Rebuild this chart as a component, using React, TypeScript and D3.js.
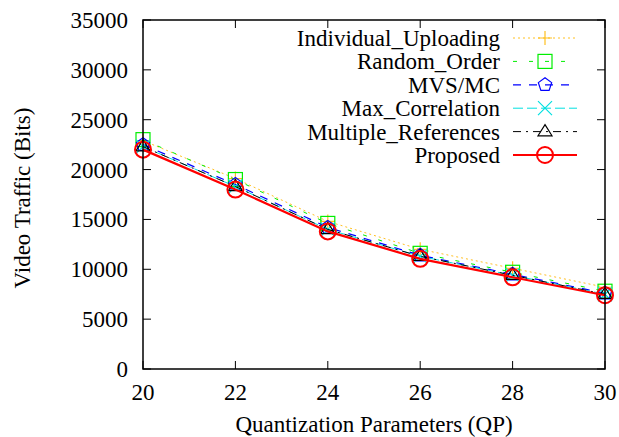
import React from 'react'
import * as d3 from 'd3'

// QP values on the x axis
const qp = [20, 22, 24, 26, 28, 30]

// video traffic (bits) for each method
const individualUploading = [22900, 19100, 14800, 12000, 10100, 8200]
const randomOrder = [23000, 19000, 14600, 11600, 9700, 7800]
const mvsMc = [22500, 18500, 14200, 11400, 9500, 7600]
const maxCorrelation = [22300, 18300, 14000, 11300, 9400, 7500]
const multipleReferences = [22300, 18300, 14000, 11300, 9400, 7500]
const proposed = [22000, 18000, 13800, 11050, 9200, 7400]

const yTicks = [0, 5000, 10000, 15000, 20000, 25000, 30000, 35000]

const series = [
  { name: 'Individual_Uploading', values: individualUploading, color: '#ffc020', dash: '2,3', width: 1, marker: 'plus' },
  { name: 'Random_Order', values: randomOrder, color: '#00ee00', dash: '4,12', width: 1, marker: 'square' },
  { name: 'MVS/MC', values: mvsMc, color: '#0000ff', dash: '8,8', width: 1.2, marker: 'pentagon' },
  { name: 'Max_Correlation', values: maxCorrelation, color: '#00e0e0', dash: '10,4', width: 1, marker: 'cross' },
  { name: 'Multiple_References', values: multipleReferences, color: '#000000', dash: '8,5,2,5', width: 1, marker: 'triangle' },
  { name: 'Proposed', values: proposed, color: '#ff0000', dash: null, width: 2.2, marker: 'circle' },
]

const width = 619
const height = 437
const margin = { left: 143, right: 14, top: 20, bottom: 68 }

const x = d3.scaleLinear().domain([20, 30]).range([margin.left, width - margin.right])
const y = d3.scaleLinear().domain([0, 35000]).range([height - margin.bottom, margin.top])

function Marker({ kind, cx, cy, color }: { kind: string; cx: number; cy: number; color: string }) {
  const s = 7
  const common = { fill: 'none', stroke: color, strokeWidth: kind === 'circle' ? 2 : 1.2 }
  if (kind === 'plus') {
    return <path d={`M${cx - s},${cy}H${cx + s}M${cx},${cy - s}V${cy + s}`} {...common} />
  }
  if (kind === 'cross') {
    return <path d={`M${cx - s},${cy - s}L${cx + s},${cy + s}M${cx - s},${cy + s}L${cx + s},${cy - s}`} {...common} />
  }
  if (kind === 'square') {
    return <rect x={cx - s} y={cy - s} width={2 * s} height={2 * s} {...common} />
  }
  if (kind === 'circle') {
    return <circle cx={cx} cy={cy} r={s + 1} {...common} />
  }
  if (kind === 'triangle') {
    return <path d={`M${cx},${cy - s}L${cx + s},${cy + s * 0.6}L${cx - s},${cy + s * 0.6}Z`} {...common} />
  }
  // pentagon
  const pts = d3.range(5).map((i) => {
    const a = -Math.PI / 2 + (i * 2 * Math.PI) / 5
    return [cx + s * Math.cos(a), cy + s * Math.sin(a)]
  })
  return <polygon points={pts.map((p) => p.join(',')).join(' ')} {...common} />
}

export default function App() {
  const line = d3
    .line<number>()
    .x((_, i) => x(qp[i]))
    .y((d) => y(d))

  const font = "'Liberation Serif', 'Times New Roman', 'DejaVu Serif', serif"
  const fs = 23
  const x0 = margin.left
  const x1 = width - margin.right
  const y0 = height - margin.bottom
  const y1 = margin.top
  const tick = 8

  return (
    <svg width={width} height={height} style={{ position: 'absolute', left: 0, top: 0, fontFamily: font }}>
      <rect width={width} height={height} fill="#fff" />
      {/* ticks, mirrored on all sides */}
      {yTicks.map((t) => (
        <g key={'y' + t}>
          <line x1={x0} x2={x0 + tick} y1={y(t)} y2={y(t)} stroke="#000" />
          <line x1={x1} x2={x1 - tick} y1={y(t)} y2={y(t)} stroke="#000" />
          <text x={x0 - 15} y={y(t) + 8} textAnchor="end" fontSize={fs}>
            {t}
          </text>
        </g>
      ))}
      {qp.map((t) => (
        <g key={'x' + t}>
          <line x1={x(t)} x2={x(t)} y1={y0} y2={y0 - tick} stroke="#000" />
          <line x1={x(t)} x2={x(t)} y1={y1} y2={y1 + tick} stroke="#000" />
          <text x={x(t)} y={y0 + 31} textAnchor="middle" fontSize={fs}>
            {t}
          </text>
        </g>
      ))}

      {series.map((s) => (
        <g key={s.name}>
          <path d={line(s.values) || ''} fill="none" stroke={s.color} strokeWidth={s.width} strokeDasharray={s.dash || undefined} />
          {s.values.map((v, i) => (
            <Marker key={i} kind={s.marker} cx={x(qp[i])} cy={y(v)} color={s.color} />
          ))}
        </g>
      ))}

      <rect x={x0} y={y1} width={x1 - x0} height={y0 - y1} fill="none" stroke="#000" strokeWidth={1.5} />

      {/* legend */}
      {series.map((s, i) => {
        const ly = 38 + i * 23.4
        return (
          <g key={'l' + s.name}>
            <text x={500} y={ly + 8} textAnchor="end" fontSize={fs}>
              {s.name}
            </text>
            <line x1={513} x2={577} y1={ly} y2={ly} stroke={s.color} strokeWidth={s.width} strokeDasharray={s.dash || undefined} />
            <Marker kind={s.marker} cx={545} cy={ly} color={s.color} />
          </g>
        )
      })}

      <text transform={`translate(30,198) rotate(-90)`} textAnchor="middle" fontSize={fs}>
        Video Traffic (Bits)
      </text>
      <text x={(x0 + x1) / 2} y={432} textAnchor="middle" fontSize={fs}>
        Quantization Parameters (QP)
      </text>
    </svg>
  )
}
